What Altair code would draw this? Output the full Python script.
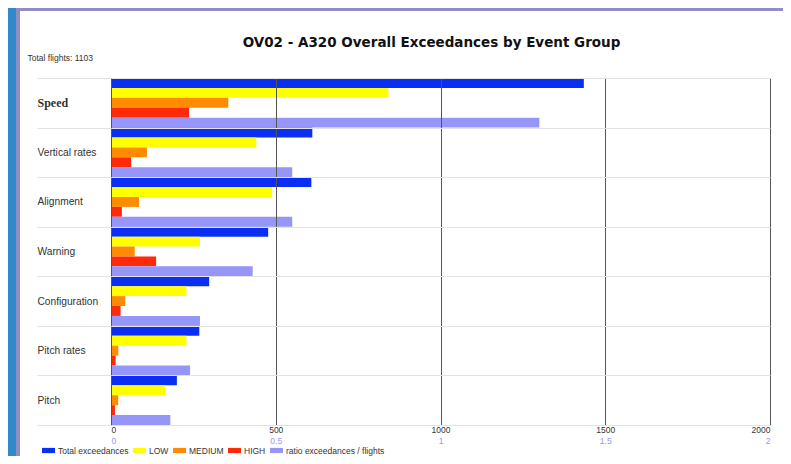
import altair as alt
import pandas as pd

categories = ["Speed", "Vertical rates", "Alignment", "Warning",
              "Configuration", "Pitch rates", "Pitch"]
series_names = ["Total exceedances", "LOW", "MEDIUM", "HIGH",
                "ratio exceedances / flights"]
total = [1435, 611, 608, 477, 298, 268, 200]
low = [842, 441, 489, 270, 229, 229, 165]
medium = [356, 109, 85, 72, 43, 22, 22]
high = [237, 61, 33, 137, 29, 14, 12]
ratio = [1.30, 0.55, 0.55, 0.43, 0.27, 0.24, 0.18]
count_ticks = [0, 500, 1000, 1500, 2000]
ratio_ticks = [0, 0.5, 1, 1.5, 2]
colors = ["#0b2ff2", "#ffff00", "#ff8c00", "#ff2a0a", "#9696f8"]

rows = []
for i, c in enumerate(categories):
    for s, vals in zip(series_names[:4], [total, low, medium, high]):
        rows.append({"category": c, "series": s, "value": vals[i]})
df_counts = pd.DataFrame(rows)
df_ratio = pd.DataFrame({"category": categories,
                         "series": series_names[4],
                         "ratio": ratio})

y_axis = alt.Axis(
    title="Total flights: 1103", titleAngle=0, titleX=-84, titleY=-21,
    titleAlign="left", titleBaseline="middle", titleFont="Liberation Sans",
    titleFontSize=8.5, titleFontWeight="normal", titleColor="#333333",
    tickBand="extent", grid=True, gridColor="#e2e2e2", ticks=True,
    tickColor="#e2e2e2", tickSize=74, domain=False,
    labelAlign="left", labelPadding=0, labelColor="#333333",
    labelBaseline="middle",
    labelFont={"condition": {"test": "datum.value == 'Speed'",
                             "value": "Liberation Serif"},
               "value": "Liberation Sans"},
    labelFontWeight={"condition": {"test": "datum.value == 'Speed'",
                                   "value": "bold"},
                     "value": "normal"},
    labelFontSize={"condition": {"test": "datum.value == 'Speed'",
                                 "value": 12},
                   "value": 10.2},
    zindex=1,
)
y_enc = alt.Y("category:N", sort=categories,
              scale=alt.Scale(paddingInner=0, paddingOuter=0), axis=y_axis)
yoff = alt.YOffset("series:N", sort=series_names,
                   scale=alt.Scale(domain=series_names, paddingInner=0,
                                   paddingOuter=0))
color = alt.Color(
    "series:N", sort=series_names,
    scale=alt.Scale(domain=series_names, range=colors),
    legend=alt.Legend(
        title=None, orient="none", legendX=-69, legendY=366,
        direction="horizontal",
        symbolType="M-1,-0.4L1,-0.4L1,0.4L-1,0.4Z", symbolSize=169,
        symbolStrokeWidth=0, labelFontSize=8.5, labelFont="Liberation Sans",
        labelColor="#333333", columnPadding=4, labelOffset=3, padding=0,
    ),
)

panel = alt.Chart(pd.DataFrame({"panel": [0]})).mark_rect(
    fill="white", stroke="#8e8ec4", strokeWidth=4
).encode(x=alt.value(-93), x2=alt.value(689), y=alt.value(-69),
         y2=alt.value(392))

counts = alt.Chart(df_counts).mark_bar().encode(
    x=alt.X("value:Q", scale=alt.Scale(domain=[0, 2000], nice=False),
            axis=alt.Axis(values=count_ticks, title=None, grid=True,
                          gridColor="#555555", gridOpacity=1, ticks=False,
                          domain=False, labelFontSize=8.5, format="d",
                          labelFont="Liberation Sans", labelColor="#333333",
                          labelPadding=0, orient="bottom", zindex=1)),
    y=y_enc, yOffset=yoff, color=color,
)

ratios = alt.Chart(df_ratio).mark_bar().encode(
    x=alt.X("ratio:Q", scale=alt.Scale(domain=[0, 2], nice=False),
            axis=alt.Axis(values=ratio_ticks, title=None, grid=False,
                          ticks=False, domain=False, labelFontSize=8.5,
                          labelFont="Liberation Sans", labelColor="#9a9aee",
                          labelPadding=0, offset=11, format="~g",
                          orient="bottom", zindex=1)),
    y=y_enc, yOffset=yoff, color=color,
)

chart = alt.layer(panel, counts, ratios).resolve_scale(
    x="independent"
).properties(
    width=659, height=347,
    title=alt.TitleParams(
        "OV02 - A320 Overall Exceedances by Event Group",
        font="DejaVu Sans", fontSize=13.5, fontWeight="bold", color="#111111",
        anchor="middle", frame="group", offset=-42, dx=-9),
    autosize=alt.AutoSizeParams(type="none"),
    padding={"left": 103, "top": 70, "right": 13, "bottom": 31},
    background="#3089c9",
).configure_view(stroke="#666666", strokeWidth=1)

chart.save("out.html", embed_options={"renderer": "svg", "actions": False})
